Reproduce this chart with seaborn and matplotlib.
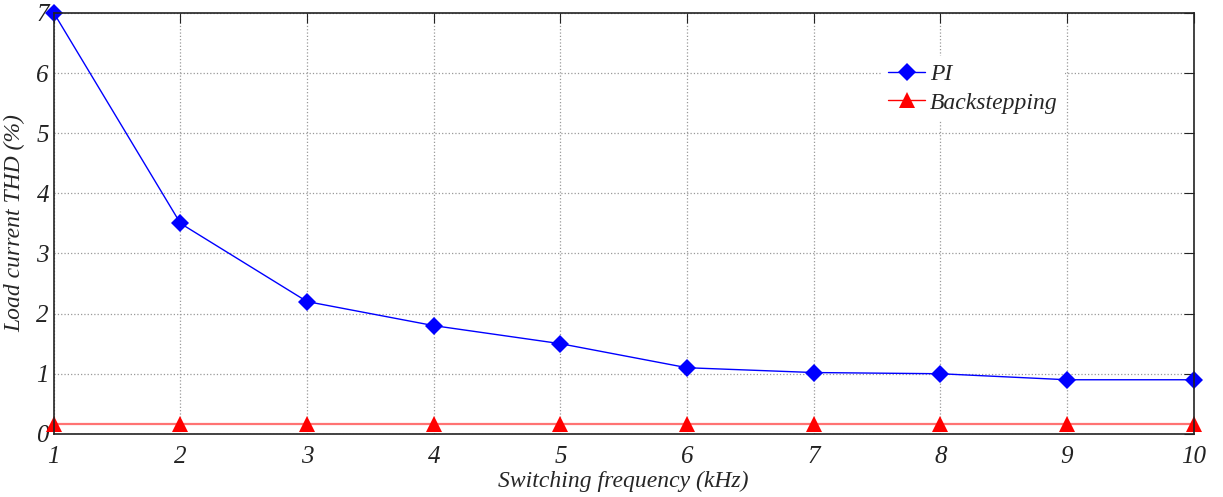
import numpy as np
import pandas as pd
import matplotlib.pyplot as plt
import seaborn as sns

freq_khz = [1, 2, 3, 4, 5, 6, 7, 8, 9, 10]
thd_pi = [7.0, 3.5, 2.2, 1.8, 1.5, 1.1, 1.02, 1.0, 0.9, 0.9]
thd_backstepping = [0.17, 0.17, 0.17, 0.17, 0.17, 0.17, 0.17, 0.17, 0.17, 0.17]
series_names = ["PI", "Backstepping"]

df = pd.DataFrame({
    "freq": freq_khz * 2,
    "thd": thd_pi + thd_backstepping,
    "method": [series_names[0]] * len(freq_khz) + [series_names[1]] * len(freq_khz),
})

sns.set_style("white")
plt.rcParams["font.family"] = ["Liberation Serif", "DejaVu Serif"]
plt.rcParams["font.style"] = "italic"

fig = plt.figure(figsize=(12.23, 4.97), dpi=100)
ax = fig.add_axes([0.044, 0.127, 0.932, 0.847])

sns.lineplot(data=df, x="freq", y="thd", hue="method", style="method",
             palette={"PI": "#0000ff", "Backstepping": "#ff0000"},
             markers={"PI": "D", "Backstepping": "^"},
             dashes=False, markersize=9, linewidth=1.0,
             markeredgewidth=0, ax=ax, clip_on=False)
# the red line is drawn a bit lighter than its markers
ax.lines[1].set_color((1.0, 0.45, 0.45))
ax.lines[1].set_markerfacecolor("#ff0000")
ax.lines[1].set_linewidth(1.6)
ax.lines[1].set_markersize(12)

ax.set_xlim(1, 10)
ax.set_ylim(0, 7)
ax.set_xticks(freq_khz)
ax.set_yticks(range(0, 8))
ax.grid(True, linestyle=":", color="#999999", linewidth=0.9)
ax.tick_params(direction="in", length=7, labelsize=18, colors="#222222",
               top=True, right=True)
ax.tick_params(axis="x", pad=9)
for sp in ax.spines.values():
    sp.set_color("#222222")
    sp.set_linewidth(1.2)

ax.set_xlabel("Switching frequency (kHz)", fontsize=17, labelpad=2)
ax.set_ylabel("Load current THD (%)", fontsize=17, labelpad=8)

leg = ax.legend(loc="upper left", bbox_to_anchor=(0.715, 0.925), frameon=True,
                fancybox=False, edgecolor="white", framealpha=1, fontsize=17,
                handlelength=1.6, handletextpad=0.2, borderpad=0.3,
                labelspacing=0.3)
leg.get_frame().set_linewidth(0)
leg.get_lines()[1].set_color("#ff0000")
leg.get_lines()[1].set_markersize(12)

fig.savefig("out.png", dpi=100)
